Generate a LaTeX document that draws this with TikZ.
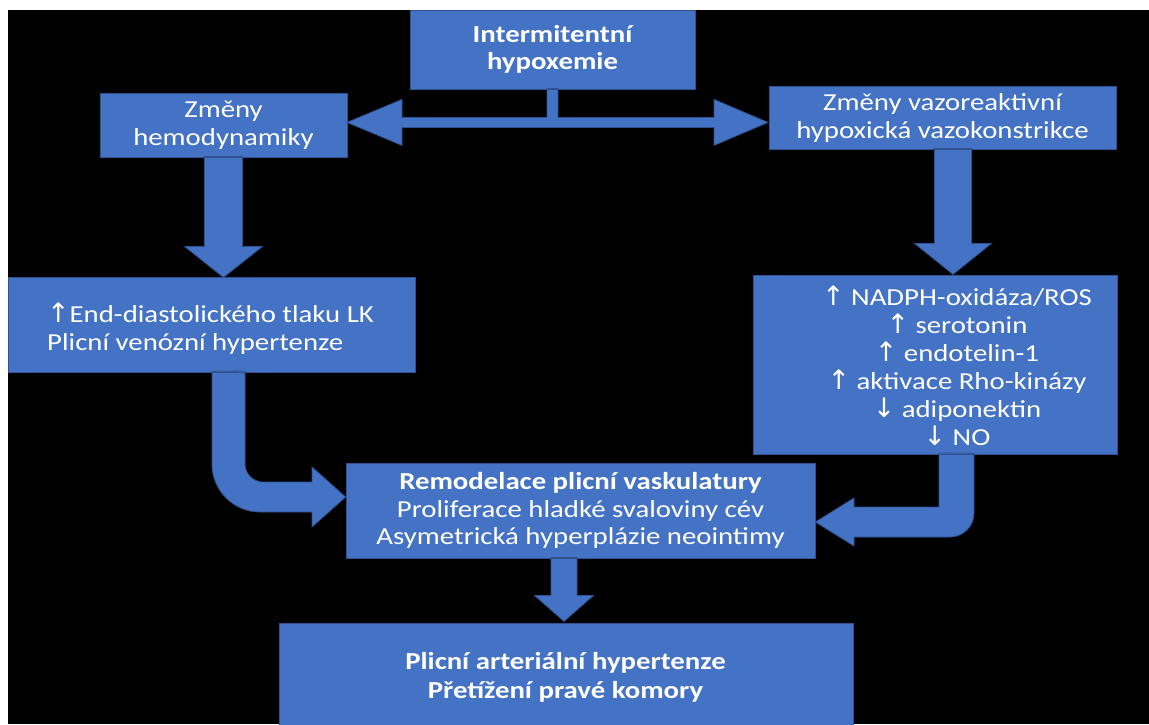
\documentclass[tikz,border=0pt]{standalone}
\usepackage{fontspec}
\setmainfont{Carlito}[FakeStretch=1.18]
\newfontfamily\arr{DejaVu Sans}[Scale=1.1]
\usetikzlibrary{calc}
\definecolor{ofblue}{HTML}{4472C4}
\definecolor{ofedge}{HTML}{2F528F}
\begin{document}
\begin{tikzpicture}[x=1pt,y=-1pt,
  box/.style={fill=ofblue, draw=ofedge, line width=0.8pt, text=white, align=center, inner sep=0pt,
    font=\fontsize{24.4}{28}\selectfont},
  boldbox/.style={box, font=\fontsize{24.4}{27.5}\selectfont\bfseries},
  blk/.style={fill=ofblue, draw=ofedge, line width=0.8pt},
  lbl/.style={text=white, inner sep=0pt, font=\fontsize{24.4}{28}\selectfont}]
\useasboundingbox (0,0) rectangle (1149,724);
\fill[white] (0,0) rectangle (1149,724);
\fill[black] (8,10) rectangle (1149,724);

\coordinate (ptop) at (552.5,49.5);
\coordinate (phemo) at (223.5,125);
\coordinate (pvazo) at (942.5,117.5);
\coordinate (plk) at (211.5,324.5);
\coordinate (pnad) at (935,364.5);
\coordinate (prem) at (580.5,510.5);
\coordinate (ppah) at (566,681);

\node[box, minimum width=285pt, minimum height=79pt, font=\fontsize{24.4}{27}\selectfont\bfseries] (top) at (ptop) {Intermitentní\\hypoxemie};
\node[box, minimum width=247pt, minimum height=64pt] (hemo) at (phemo) {Změny\\hemodynamiky};
\node[box, minimum width=347pt, minimum height=63pt] (vazo) at (pvazo) {Změny vazoreaktivní\\hypoxická vazokonstrikce};
\node[box, minimum width=407pt, minimum height=95pt] (lk) at (plk) {};
\node[box, minimum width=364pt, minimum height=179pt] (nad) at (pnad) {};
\node[box, minimum width=469pt, minimum height=95pt, font=\fontsize{24.4}{27.5}\selectfont] (rem) at (prem) {\textbf{Remodelace plicní vaskulatury}\\Proliferace hladké svaloviny cév\\Asymetrická hyperplázie neointimy};
\node[boldbox, minimum width=574pt, minimum height=116pt] (pah) at (ppah) {};

% block arrows
\filldraw[blk] ($(top.south)+(-5.5,-1)$) -- ++(0,29) -- ++(-145,0) -- ++(0,-18) -- ++(-55,23)
  -- ++(55,23) -- ++(0,-18) -- ++(312,0) -- ++(0,18) -- ++(54,-23) -- ++(-54,-23) -- ++(0,18)
  -- ++(-156,0) -- ++(0,-29) -- cycle;
\filldraw[blk] ($(hemo.south)+(-19,-1)$) -- ++(0,90) -- ++(-20,0) -- ++(39,31) -- ++(39,-31)
  -- ++(-20,0) -- ++(0,-90) -- cycle;
\filldraw[blk] ($(vazo.south)+(-8,-1)$) -- ++(0,95) -- ++(-20,0) -- ++(38.5,31) -- ++(38.5,-31)
  -- ++(-20,0) -- ++(0,-95) -- cycle;
\filldraw[blk] ($(lk.south)+(0.5,-1)$) -- (212,464) .. controls (212,490.5) and (233.5,512) .. (260,512)
  -- (312,512) -- (312,527) -- (rem.west |- 0,497) -- (312,467) -- (312,482) -- (263,482)
  .. controls (253.1,482) and (245,473.9) .. (245,464) -- (245,371) -- cycle;
\filldraw[blk] ($(nad.south)+(39,-1)$) -- (974,513) .. controls (974,526.25) and (963.25,537) .. (950,537)
  -- (854,537) -- (854,546) -- (rem.east |- 0,522) -- (854,498) -- (854,507) -- (939,507)
  -- (939,453) -- cycle;
\filldraw[blk] ($(rem.south)+(-29.5,-1)$) -- ++(0,38) -- ++(-16.5,0) -- ++(29.5,26) -- ++(29.5,-26)
  -- ++(-16.5,0) -- ++(0,-38) -- cycle;

% redraw box outlines over arrow joins
\draw[ofedge, line width=0.8pt] (top.south west) -- (top.south east);
\draw[ofedge, line width=0.8pt] (hemo.south west) -- (hemo.south east);
\draw[ofedge, line width=0.8pt] (vazo.south west) -- (vazo.south east);
\draw[ofedge, line width=0.8pt] (lk.south west) -- (lk.south east);
\draw[ofedge, line width=0.8pt] (nad.south west) -- (nad.south east);
\draw[ofedge, line width=0.8pt] (rem.south west) -- (rem.south east);

% texts
\node[lbl, anchor=west, align=left] (lktext) at (47,329) {{\arr ↑}End-diastolického tlaku LK\\Plicní venózní hypertenze};
\node[lbl, align=center] (nadtext) at (957,365.5) {{\arr ↑} NADPH-oxidáza/ROS\\{\arr ↑} serotonin\\{\arr ↑} endotelin-1\\{\arr ↑} aktivace Rho-kinázy\\{\arr ↓} adiponektin\\{\arr ↓} NO};
\node[lbl, align=center, font=\fontsize{24.4}{29}\selectfont\bfseries] (pahtext) at (565.5,677.5) {Plicní arteriální hypertenze\\Přetížení pravé komory};
\end{tikzpicture}
\end{document}
